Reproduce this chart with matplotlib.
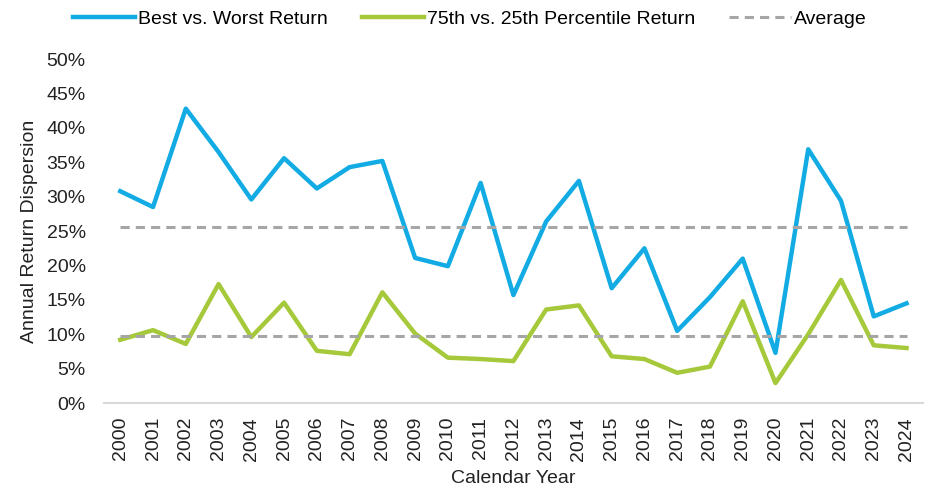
import numpy as np
import matplotlib.pyplot as plt

plt.rcParams['font.family'] = ['Liberation Sans', 'DejaVu Sans']

years = [str(y) for y in range(2000, 2025)]
best_worst = [30.8, 28.5, 42.8, 36.5, 29.6, 35.6, 31.2, 34.3, 35.2, 21.1,
              19.9, 32.0, 15.7, 26.4, 32.3, 16.7, 22.5, 10.5, 15.4, 21.0,
              7.3, 36.9, 29.4, 12.6, 14.5]
p75_p25 = [9.2, 10.6, 8.6, 17.3, 9.6, 14.6, 7.6, 7.1, 16.1, 10.1,
           6.6, 6.4, 6.1, 13.6, 14.2, 6.8, 6.4, 4.4, 5.3, 14.8,
           2.9, 10.0, 17.9, 8.4, 8.0]

avg_bw = np.mean(best_worst)
avg_p = np.mean(p75_p25)

fig = plt.figure(figsize=(9.36, 4.97), dpi=100)
ax = fig.add_axes([0.111, 0.189, 0.875, 0.692])

x = np.arange(len(years))
ax.plot(x, best_worst, color='#12ABE4', lw=3.2, label='Best vs. Worst Return')
ax.plot(x, p75_p25, color='#A5C93A', lw=3.2, label='75th vs. 25th Percentile Return')
ax.plot(x, [avg_bw] * len(x), color='#A6A6A6', lw=2.2, ls=(0, (3, 2)), label='Average')
ax.plot(x, [avg_p] * len(x), color='#A6A6A6', lw=2.2, ls=(0, (3, 2)))

ax.set_xlim(-0.5, len(years) - 0.5)
ax.set_ylim(0, 50)
ax.set_yticks(np.arange(0, 51, 5))
ax.set_yticklabels([f'{v}%' for v in range(0, 51, 5)])
ax.set_xticks(x)
ax.set_xticklabels(years, rotation=90)
ax.tick_params(length=0, labelsize=14, colors='#222222')
ax.tick_params(axis='y', pad=13)
ax.tick_params(axis='x', pad=10)

for s in ['top', 'right', 'left']:
    ax.spines[s].set_visible(False)
ax.spines['bottom'].set_color('#D9D9D9')
ax.spines['bottom'].set_linewidth(1.5)

ax.set_xlabel('Calendar Year', fontsize=14, color='#222222', labelpad=7)
ax.set_ylabel('Annual Return Dispersion', fontsize=14, color='#222222', labelpad=6)

fig.legend(loc='upper center', bbox_to_anchor=(0.502, 1.015), ncol=3, frameon=False,
           fontsize=14, handlelength=3.2, columnspacing=1.75, handletextpad=0.15)

fig.savefig('out.png', dpi=100)
